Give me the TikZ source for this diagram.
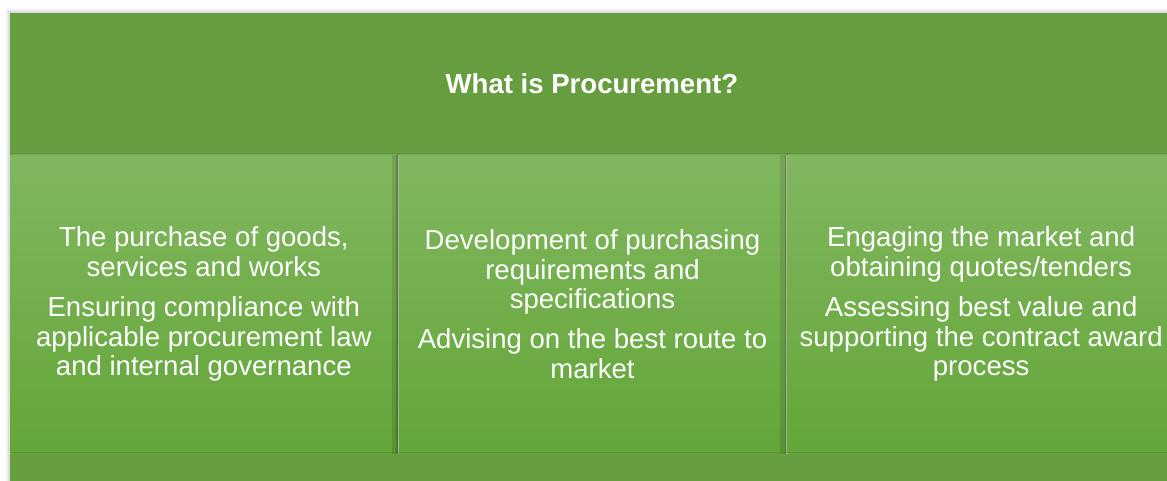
\documentclass[tikz,border=0pt]{standalone}
\usepackage{fontspec}
\setmainfont{Liberation Sans}
\usetikzlibrary{positioning}
\definecolor{bandgreen}{RGB}{101,157,63}
\definecolor{paneltop}{RGB}{129,183,95}
\definecolor{panelbot}{RGB}{99,166,56}
\tikzstyle{band} = [rectangle, fill=bandgreen, inner sep=0pt, text=white, minimum width=29.075cm]
\tikzstyle{panel} = [rectangle, top color=paneltop, bottom color=panelbot, inner sep=0pt, text=white, align=center,
	minimum width=9.675cm, minimum height=7.46cm]
\newcommand{\bodytext}{\fontsize{19.6}{21}\selectfont}
\newcommand{\gap}{\\[7.5pt]}

\begin{document}
\begin{tikzpicture}[x=0.025cm, y=-0.025cm]%
			\useasboundingbox (0,0) rectangle (1167,481);%
			\clip (0,0) rectangle (1167,481);%
			% soft shadow round the box
			\fill[black, opacity=.06] (6,9) rectangle (1180,500);%
			\fill[black, opacity=.08] (8,11) rectangle (1180,500);%
			\node[band, minimum height=3.535cm, anchor=north west, font=\bodytext\bfseries] (head) at (10,13) {What is Procurement?};%
			\node[panel, font=\bodytext, anchor=north west] (colA) at ([yshift=0.01cm]head.south west) {The purchase of goods,\\ services and works\gap
				Ensuring compliance with\\ applicable procurement law\\ and internal governance};%
			\node[panel, font=\bodytext, right=0.025cm of colA.north east, anchor=north west] (colB) {Development of purchasing\\ requirements and\\ specifications\gap
				Advising on the best route to\\ market};%
			\node[panel, font=\bodytext, right=0.025cm of colB.north east, anchor=north west] (colC) {Engaging the market and\\ obtaining quotes/tenders\gap
				Assessing best value and\\ supporting the contract award\\ process};%
			\node[band, minimum height=1.5cm, anchor=north west] (foot) at ([yshift=0.01cm]colA.south west) {};%
			% dark edges of the panels
			\foreach \p in {colA, colB} {%
				\fill[black, opacity=.10] ([xshift=-0.15cm]\p.north east) rectangle (\p.south east);%
				\fill[black, opacity=.18] ([xshift=-0.04cm]\p.north east) rectangle ([xshift=0.025cm]\p.south east);%
			}%
			\fill[black, opacity=.08] ([yshift=0.01cm]head.south west) rectangle ([yshift=0.05cm]head.south east);%
			\fill[black, opacity=.10] (foot.north west) rectangle ([yshift=0.04cm]foot.north east);%
		\end{tikzpicture}
\end{document}
